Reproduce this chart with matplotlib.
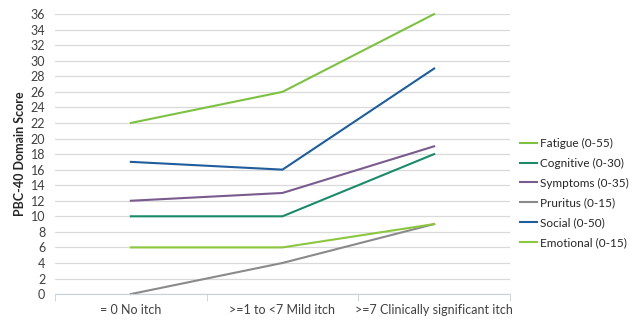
import matplotlib.pyplot as plt
import numpy as np

plt.rcParams['font.family'] = ['Lato', 'DejaVu Sans']

# categories and series values
categories = ["= 0 No itch", ">=1 to <7 Mild itch", ">=7 Clinically significant itch"]
fatigue = [22, 26, 36]
cognitive = [10, 10, 18]
symptoms = [12, 13, 19]
pruritus = [0, 4, 9]
social = [17, 16, 29]
emotional = [6, 6, 9]

series = [
    ("Fatigue (0-55)", fatigue, "#7dc142"),
    ("Cognitive (0-30)", cognitive, "#1b8a6b"),
    ("Symptoms (0-35)", symptoms, "#7a5b8e"),
    ("Pruritus (0-15)", pruritus, "#8a8a8a"),
    ("Social (0-50)", social, "#1f5d9c"),
    ("Emotional (0-15)", emotional, "#8cc63f"),
]

fig = plt.figure(figsize=(6.35, 3.2), dpi=100)
ax = fig.add_axes([0.0866, 0.081, 0.7165, 0.875])

x = np.arange(len(categories))
for name, vals, col in series:
    ax.plot(x, vals, color=col, linewidth=1.5, label=name, clip_on=False)

ax.set_xlim(-0.5, 2.5)
ax.set_ylim(0, 36)
ax.set_yticks(np.arange(0, 37, 2))
ax.set_xticks(x)
ax.set_xticklabels(categories, fontsize=9, color="#404040")
ax.set_xticks([-0.5, 0.5, 1.5, 2.5], minor=True)
ax.tick_params(axis="x", which="major", length=0, pad=7)
ax.tick_params(axis="x", which="minor", length=5, color="#c8d0dc")
ax.tick_params(axis="y", length=0, labelsize=9, labelcolor="#404040", pad=7)

ax.grid(axis="y", color="#d9d9d9", linewidth=0.9)
ax.set_axisbelow(True)
for s in ["top", "right", "left"]:
    ax.spines[s].set_visible(False)
ax.spines["bottom"].set_color("#c8d0dc")

ax.set_ylabel("PBC-40 Domain Score", fontsize=9, fontweight="bold", color="#262626", labelpad=3)

fig.legend(loc="center left", bbox_to_anchor=(0.808, 0.397), frameon=False,
           fontsize=8.5, handlelength=1.4, handletextpad=0.3, labelspacing=0.75,
           labelcolor="#262626", borderaxespad=0.2)

fig.savefig("out.png", dpi=100)
